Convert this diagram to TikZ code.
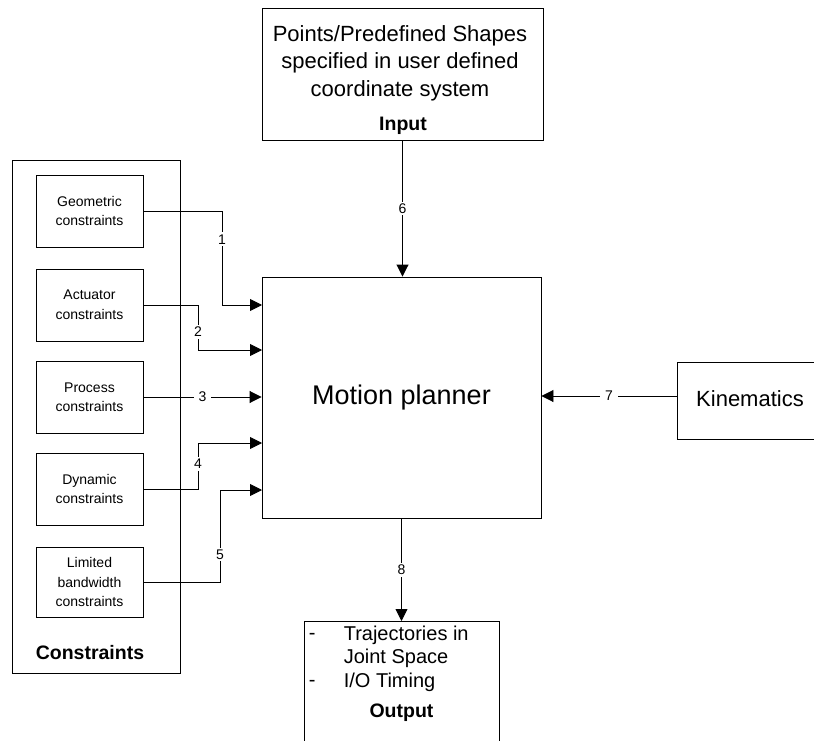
\documentclass[tikz,border=0pt]{standalone}
\usepackage{fontspec}
\setmainfont{Liberation Sans}
\usetikzlibrary{arrows.meta}

\begin{document}
\begin{tikzpicture}[x=1pt, y=-1pt, line width=0.9pt,
    box/.style={draw, rectangle, inner sep=0pt},
    cbox/.style={box, minimum width=107pt, minimum height=72pt, font=\fontsize{14}{19.5}\selectfont, align=center},
    big/.style={font=\fontsize{20}{23}\selectfont},
    title/.style={font=\fontsize{19.5}{22}\selectfont\bfseries},
    lbl/.style={fill=white, inner ysep=2pt, inner xsep=5pt, font=\fontsize{14}{16}\selectfont},
    arr/.style={-{Triangle[length=12pt, width=12pt]}}]
    \clip (0,0) rectangle (814,741);
    % constraints
    \node[box, minimum width=168pt, minimum height=513pt] (cons) at (96,416.5) {};
    \node[title] (constitle) at (90,653) {Constraints};
    \node[cbox] (geo) at (89.5,211) {Geometric\\constraints};
    \node[cbox] (act) at (89.5,305) {Actuator\\constraints};
    \node[cbox] (proc) at (89.5,397) {Process\\constraints};
    \node[cbox] (dyn) at (89.5,489) {Dynamic\\constraints};
    \node[cbox, minimum height=70pt] (lim) at (89.5,582) {Limited\\bandwidth\\constraints};
    % planner
    \node[box, minimum width=279pt, minimum height=241pt, font=\fontsize{27}{30}\selectfont] (planner) at (401.5,397.5) {Motion planner};
    \coordinate (in1) at (262,305);
    \coordinate (in2) at (262,350);
    \coordinate (in4) at (262,443);
    \coordinate (in5) at (262,490);
    % input
    \node[box, minimum width=281pt, minimum height=132pt] (input) at (402.5,74) {};
    \node[font=\fontsize{22}{27.5}\selectfont, align=center] (intext) at (400,63) {Points/Predefined Shapes\\specified in user defined\\coordinate system};
    \node[title] (intitle) at (403,126) {Input};
    % kinematics
    \node[box, minimum width=146pt, minimum height=77pt, font=\fontsize{22}{25}\selectfont] (kin) at (750,400.5) {\raisebox{3pt}{Kinematics}};
    % output
    \node[box, anchor=north, minimum width=195pt, minimum height=140pt] (out) at (401.5,621) {};
    \node[big, anchor=west] (dash1) at (305,636) {-};
    \node[big, anchor=west] (traj) at (340,635) {Trajectories in};
    \node[big, anchor=west] (joint) at (340,658) {Joint Space};
    \node[big, anchor=west] (dash2) at (305,683) {-};
    \node[big, anchor=west] (timing) at (340,682) {I/O Timing};
    \node[title] (outtitle) at (401.5,713) {Output};
    % connectors
    \draw[arr] (geo.east) -| node[lbl, pos=0.65]{1} (222,305) -- (in1);
    \draw[arr] (act.east) -| node[lbl, pos=0.8]{2} (198,350) -- (in2);
    \draw[arr] (proc.east) -- node[lbl]{3} (proc.east -| planner.west);
    \draw[arr] (dyn.east) -| node[lbl, pos=0.77]{4} (198,443) -- (in4);
    \draw[arr] (lim.east) -| node[lbl, pos=0.65]{5} (220,490) -- (in5);
    \draw[arr] (input.south) -- node[lbl]{6} (input.south |- planner.north);
    \draw[arr] (kin.west |- 0,396) -- node[lbl]{7} (planner.east |- 0,396);
    \draw[arr] (planner.south) -- node[lbl]{8} (out.north);
\end{tikzpicture}
\end{document}
